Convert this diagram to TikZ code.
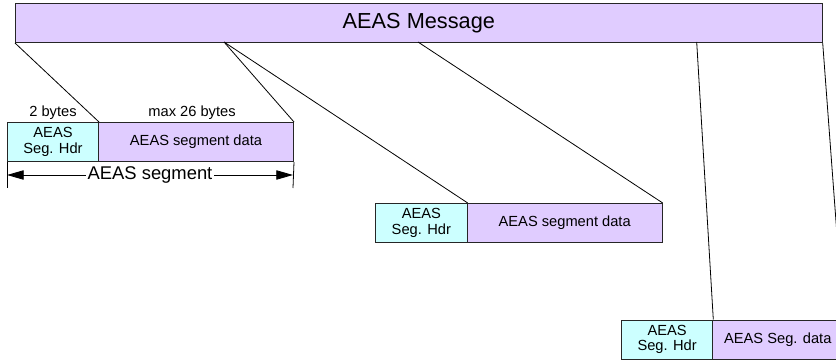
\documentclass[tikz,border=0pt]{standalone}
\usepackage{fontspec}
\setmainfont{Liberation Sans}
\usetikzlibrary{arrows.meta}
\definecolor{lav}{HTML}{E0CCFF}
\definecolor{cy}{HTML}{CCFFFF}
\begin{document}
\begin{tikzpicture}[x=0.75pt,y=-0.75pt,
  box/.style={draw=black!85, line width=0.75pt, inner sep=0pt, anchor=north west,
    align=center, font=\fontsize{11}{11.5}\selectfont},
  hdr/.style={box, fill=cy},
  dat/.style={box, fill=lav},
  conn/.style={line width=0.6pt, black},
  lbl/.style={font=\fontsize{11}{12}\selectfont, inner sep=0pt}
]
\useasboundingbox (0,0) rectangle (836,360);
\clip (0,0) rectangle (836,360);
% message bar
\node[dat, minimum width=806.7*0.75pt, minimum height=39*0.75pt,
  font=\fontsize{16.3}{18}\selectfont] (msg) at (15,3) {AEAS Message};
% segment 1
\node[hdr, minimum width=91*0.75pt, minimum height=39*0.75pt] (h1) at (7,122) {AEAS\\Seg. Hdr};
\node[dat, minimum width=195*0.75pt, minimum height=39*0.75pt] (d1) at (98,122) {AEAS segment data};
% segment 2
\node[hdr, minimum width=91.7*0.75pt, minimum height=39*0.75pt] (h2) at (375,203) {AEAS\\Seg. Hdr};
\node[dat, minimum width=195*0.75pt, minimum height=39*0.75pt] (d2) at (466.7,203) {AEAS segment data};
% segment 3
\node[hdr, minimum width=91.3*0.75pt, minimum height=39*0.75pt] (h3) at (621,319.5) {AEAS\\Seg. Hdr};
\node[dat, minimum width=130*0.75pt, minimum height=39*0.75pt] (d3) at (712.3,319.5) {AEAS Seg. data};
% labels
\node[lbl] (l2) at (53,113) {2 bytes};
\node[lbl] (l26) at (192,113) {max 26 bytes};
% connection points on message bar
\coordinate (p2) at (224,42);
\coordinate (p3) at (418,42);
\coordinate (p4) at (696.7,42);
% connectors
\draw[conn] (msg.south west) -- (h1.north east);
\draw[conn] (p2) -- (d1.north east);
\draw[conn] (p2) -- (h2.north east);
\draw[conn] (p3) -- (d2.north east);
\draw[conn] (p4) -- (h3.north east);
\draw[conn] (msg.south east) -- (d3.north east);
% dimension
\coordinate (t1) at (7,188);
\coordinate (t2) at (293,188);
\draw[conn] (h1.south west) -- (t1);
\draw[conn] (d1.south east) -- (t2);
\coordinate (a1) at (7,175);
\coordinate (a2) at (293,175);
\draw[conn, {Triangle[length=12.5pt,width=7pt]}-{Triangle[length=12.5pt,width=7pt]}] (a1) -- (a2)
  node[midway, fill=white, inner sep=1pt, font=\fontsize{13.8}{15}\selectfont] (seg) {AEAS segment};
\end{tikzpicture}
\end{document}
